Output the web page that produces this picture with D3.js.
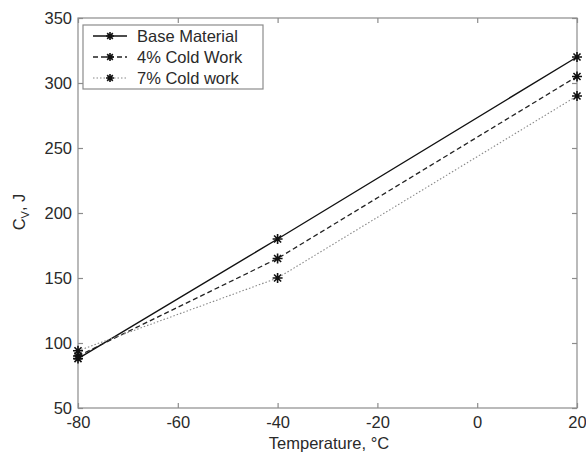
<!DOCTYPE html>
<html>
<head>
<meta charset="utf-8">
<script src="https://cdn.jsdelivr.net/npm/d3@7"></script>
<style>
  html, body { margin: 0; padding: 0; background: #fff; }
  svg { display: block; font-family: "Liberation Sans", Arial, sans-serif; }
</style>
</head>
<body>
<svg id="chart" width="586" height="452"></svg>
<script>
// Charpy impact energy versus test temperature
const temperatures = [-80, -40, 20];
const baseMaterial = [88, 180, 320];
const coldWork4 = [90, 165, 305];
const coldWork7 = [94, 150, 290];
const seriesNames = ["Base Material", "4% Cold Work", "7% Cold work"];
const xTicks = [-80, -60, -40, -20, 0, 20];
const yTicks = [50, 100, 150, 200, 250, 300, 350];

const svg = d3.select("#chart");
const m = { left: 78, right: 577, top: 18, bottom: 408 };

const x = d3.scaleLinear().domain([-80, 20]).range([m.left, m.right]);
const y = d3.scaleLinear().domain([50, 350]).range([m.bottom, m.top]);

const axisColor = "#8c8c8c";
const textColor = "#2a2a2a";
const fontSize = "16.5px";
const plain = d => String(d);   // ASCII hyphen for negatives

// frame
svg.append("rect")
  .attr("x", m.left).attr("y", m.top)
  .attr("width", m.right - m.left).attr("height", m.bottom - m.top)
  .attr("fill", "none").attr("stroke", axisColor).attr("stroke-width", 1.2);

// axes with inward ticks on all four sides
function styleAxis(g) {
  g.select(".domain").remove();
  g.selectAll(".tick line").attr("stroke", axisColor).attr("stroke-width", 1.2);
  g.selectAll(".tick text").attr("fill", textColor).style("font-size", fontSize);
}
svg.append("g").attr("transform", `translate(0,${m.bottom})`)
  .call(d3.axisBottom(x).tickValues(xTicks).tickSizeInner(-5).tickPadding(8).tickFormat(plain))
  .call(styleAxis);
svg.append("g").attr("transform", `translate(0,${m.top})`)
  .call(d3.axisTop(x).tickValues(xTicks).tickSizeInner(-5).tickFormat(""))
  .call(styleAxis);
svg.append("g").attr("transform", `translate(${m.left},0)`)
  .call(d3.axisLeft(y).tickValues(yTicks).tickSizeInner(-5).tickPadding(6).tickFormat(plain))
  .call(styleAxis);
svg.append("g").attr("transform", `translate(${m.right},0)`)
  .call(d3.axisRight(y).tickValues(yTicks).tickSizeInner(-5).tickFormat(""))
  .call(styleAxis);

// axis titles
svg.append("text")
  .attr("x", 329).attr("y", 449)
  .attr("text-anchor", "middle").attr("fill", textColor).style("font-size", fontSize)
  .text("Temperature, °C");
const yl = svg.append("text")
  .attr("transform", "translate(25,212) rotate(-90)")
  .attr("text-anchor", "middle").attr("fill", textColor).style("font-size", fontSize);
yl.append("tspan").text("C");
yl.append("tspan").attr("dy", 4).style("font-size", "11px").text("V");
yl.append("tspan").attr("dy", -4).text(", J");

const series = [
  { name: seriesNames[0], values: baseMaterial, color: "#111", width: 1.4, dash: null },
  { name: seriesNames[1], values: coldWork4, color: "#222", width: 1.3, dash: "5,3" },
  { name: seriesNames[2], values: coldWork7, color: "#888", width: 1.1, dash: "1.5,2" }
];

const line = d3.line().x(d => x(d[0])).y(d => y(d[1]));

// asterisk marker path
function star(cx, cy, r) {
  let p = "";
  for (let i = 0; i < 4; i++) {
    const a = i * Math.PI / 4;
    const dx = r * Math.cos(a), dy = r * Math.sin(a);
    p += `M${cx - dx},${cy - dy}L${cx + dx},${cy + dy}`;
  }
  return p;
}

series.forEach(s => {
  const pts = temperatures.map((t, i) => [t, s.values[i]]);
  svg.append("path").attr("d", line(pts))
    .attr("fill", "none").attr("stroke", s.color).attr("stroke-width", s.width)
    .attr("stroke-dasharray", s.dash);
  svg.selectAll(null).data(pts).enter().append("path")
    .attr("d", d => star(x(d[0]), y(d[1]), 5))
    .attr("stroke", "#111").attr("stroke-width", 1.6).attr("fill", "none");
});

// legend
const lg = svg.append("g");
lg.append("rect").attr("x", 83).attr("y", 25).attr("width", 180).attr("height", 64)
  .attr("fill", "#fff").attr("stroke", axisColor).attr("stroke-width", 1.2);
series.forEach((s, i) => {
  const ly = 36 + i * 21;
  lg.append("line").attr("x1", 93).attr("x2", 127).attr("y1", ly).attr("y2", ly)
    .attr("stroke", s.color).attr("stroke-width", s.width).attr("stroke-dasharray", s.dash);
  lg.append("path").attr("d", star(110, ly, 4)).attr("stroke", "#111").attr("stroke-width", 1.6);
  lg.append("text").attr("x", 137).attr("y", ly + 6)
    .attr("fill", textColor).style("font-size", fontSize).text(s.name);
});
</script>
</body>
</html>
